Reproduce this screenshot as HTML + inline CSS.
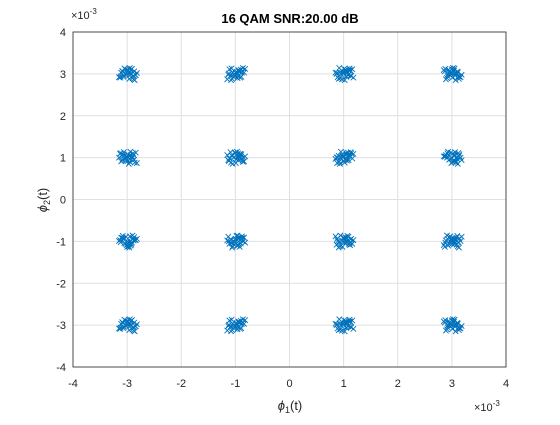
<!DOCTYPE html>
<html><head><meta charset="utf-8"><style>
body{margin:0;background:#fff;}
svg text{font-family:"Liberation Sans",sans-serif;}
</style></head><body>
<svg id="chart" width="560" height="420" xmlns="http://www.w3.org/2000/svg">
<rect width="560" height="420" fill="#fff"/>
<rect x="73" y="32" width="433" height="335" fill="#fff"/>
<g id="grid"></g>
<g id="marks"></g>
<rect x="73" y="32" width="433" height="335" fill="none" stroke="#262626" stroke-width="0.8"/>
<g id="ticks"></g>
<text x="290" y="23" text-anchor="middle" font-size="13" font-weight="bold" fill="#000">16 QAM  SNR:20.00 dB</text>
<text x="290" y="410" text-anchor="middle" font-size="13" fill="#262626"><tspan font-style="italic">ϕ</tspan><tspan font-size="9" dy="3">1</tspan><tspan dy="-3">(t)</tspan></text>
<text transform="translate(47,200) rotate(-90)" text-anchor="middle" font-size="13" fill="#262626"><tspan font-style="italic">ϕ</tspan><tspan font-size="9" dy="3">2</tspan><tspan dy="-3">(t)</tspan></text>
<text x="71" y="19" font-size="11" fill="#262626">×10<tspan font-size="8" dy="-5">-3</tspan></text>
<text x="474" y="411" font-size="11" fill="#262626">×10<tspan font-size="8" dy="-5">-3</tspan></text>
</svg>
<script>
const xTicks=[-4,-3,-2,-1,0,1,2,3,4];
const yTicks=[-4,-3,-2,-1,0,1,2,3,4];
const symI=[-3,-1,1,3];
const symQ=[-3,-1,1,3];
const noiseI=[0.05,-0.08,0.12,0.02,-0.15,0.07,-0.03,0.10,-0.11,0.04,0.16,-0.06,0.00,-0.09,0.08,0.13,-0.02,0.06,-0.13,0.03,0.09,-0.05,0.18,-0.07,0.01,0.11,-0.12,0.05,-0.01,0.14];
const noiseQ=[0.03,0.07,-0.06,-0.12,0.02,0.10,-0.09,0.05,0.00,0.14,-0.03,-0.07,0.11,0.04,-0.13,0.06,0.09,-0.04,0.01,-0.10,0.12,0.08,-0.02,-0.15,0.06,-0.05,0.03,0.13,-0.08,0.00];
const X0=73,X1=506,Y0=367,Y1=32;
function sx(v){return X0+(v+4)/8*(X1-X0);}
function sy(v){return Y0-(v+4)/8*(Y0-Y1);}
const NS="http://www.w3.org/2000/svg";
const grid=document.getElementById('grid'),ticks=document.getElementById('ticks'),marks=document.getElementById('marks');
xTicks.forEach(t=>{
 const l=document.createElementNS(NS,'line');
 
 
 l.setAttribute('x1',sx(t));l.setAttribute('x2',sx(t));l.setAttribute('y1',Y1);l.setAttribute('y2',Y0);
 l.setAttribute('stroke','#dfdfdf');l.setAttribute('stroke-width','1');grid.appendChild(l);
 const tx=document.createElementNS(NS,'text');
 
 
 tx.setAttribute('x',sx(t));tx.setAttribute('y',387);tx.setAttribute('text-anchor','middle');
 tx.setAttribute('font-size','11');tx.setAttribute('fill','#262626');tx.textContent=t;ticks.appendChild(tx);
});
yTicks.forEach(t=>{
 const l=document.createElementNS(NS,'line');
 
 
 l.setAttribute('y1',sy(t));l.setAttribute('y2',sy(t));l.setAttribute('x1',X0);l.setAttribute('x2',X1);
 l.setAttribute('stroke','#dfdfdf');l.setAttribute('stroke-width','1');grid.appendChild(l);
 const tx=document.createElementNS(NS,'text');
 
 
 tx.setAttribute('x',66);tx.setAttribute('y',sy(t)+4);tx.setAttribute('text-anchor','end');
 tx.setAttribute('font-size','11');tx.setAttribute('fill','#262626');tx.textContent=t;ticks.appendChild(tx);
});
const N=noiseI.length;
symI.forEach((ci,a)=>symQ.forEach((cq,b)=>{
 for(let n=0;n<N;n++){
  const vi=ci+noiseI[(n+a*7+b*3)%N];
  const vq=cq+noiseQ[(n*7+a*5+b*11)%N];
  const x=sx(vi),y=sy(vq),r=2.7;
  const p=document.createElementNS(NS,'path');
  
  
  p.setAttribute('d',`M${x-r},${y-r}L${x+r},${y+r}M${x-r},${y+r}L${x+r},${y-r}`);
  p.setAttribute('stroke','#0072bd');p.setAttribute('stroke-width','0.9');p.setAttribute('fill','none');
  marks.appendChild(p);
 }
}));
</script>
</body></html>
